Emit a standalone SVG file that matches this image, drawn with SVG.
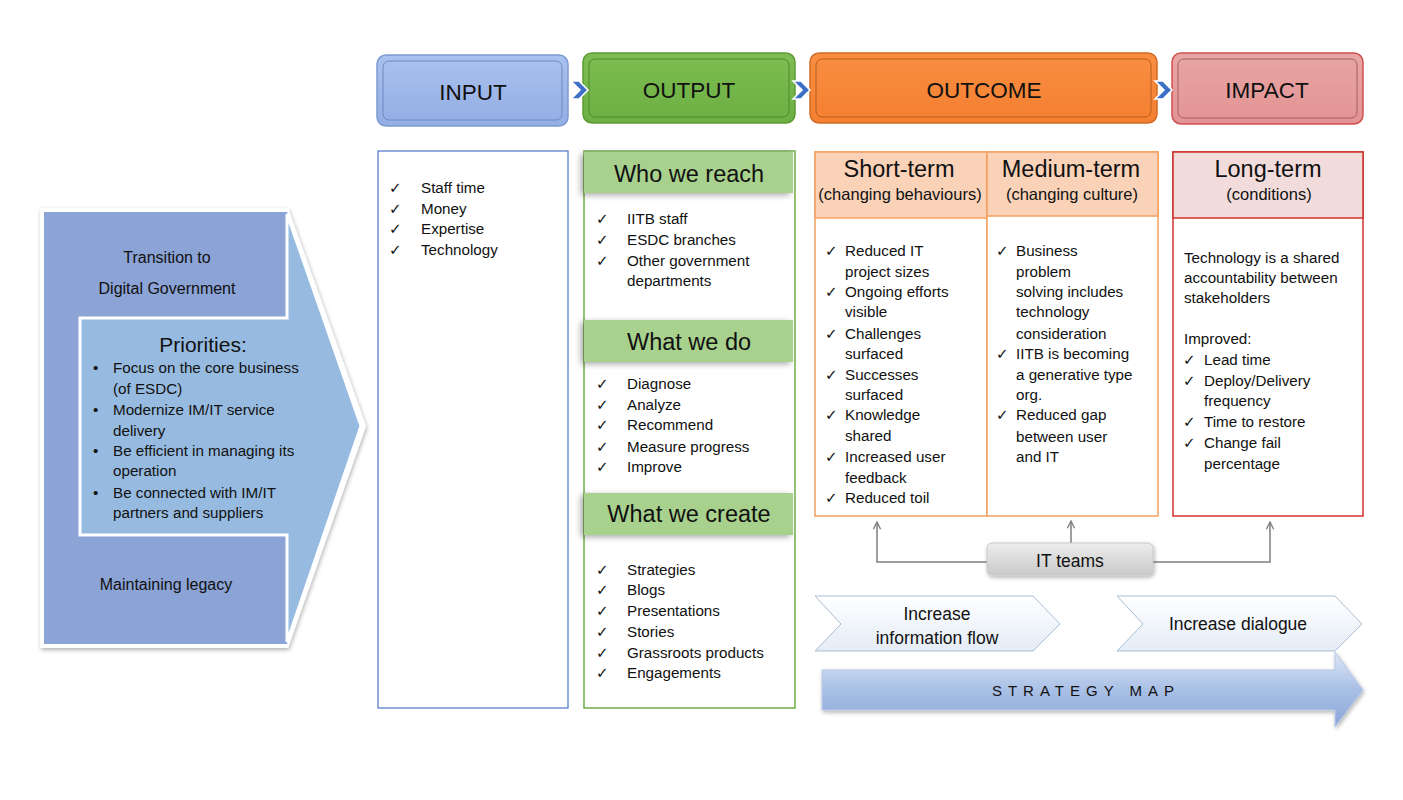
<svg xmlns="http://www.w3.org/2000/svg" width="1403" height="800" viewBox="0 0 1403 800">
<defs>
<style>
text{font-family:"Liberation Sans",Arial,sans-serif;fill:#111;}
.b{font-size:15.2px;}
.l{font-size:16px;}
.h{font-size:23.5px;}
.hd{font-size:22.5px;}
.sub{font-size:16.5px;}
.m{font-size:17.5px;}
.ck{font-family:"DejaVu Sans",sans-serif;font-size:15px;}
.c{text-anchor:middle;}
.conn{stroke:#7F7F7F;stroke-width:1.5;fill:none;marker-end:url(#ar);}
</style>
<marker id="ar" viewBox="0 0 10 10" refX="9" refY="5" markerWidth="9" markerHeight="9" orient="auto" markerUnits="userSpaceOnUse">
<path d="M1,1 L9,5 L1,9" fill="none" stroke="#7F7F7F" stroke-width="1.5"/>
</marker>
<filter id="sh" x="-10%" y="-20%" width="120%" height="150%">
<feDropShadow dx="-3" dy="2" stdDeviation="3" flood-color="#000" flood-opacity="0.35"/>
</filter>
<filter id="sh2" x="-10%" y="-10%" width="120%" height="130%">
<feDropShadow dx="1" dy="2" stdDeviation="2" flood-color="#000" flood-opacity="0.3"/>
</filter>
<linearGradient id="gIn" x1="0" y1="0" x2="0" y2="1"><stop offset="0" stop-color="#A9C1EE"/><stop offset="1" stop-color="#93AEE4"/></linearGradient>
<linearGradient id="gOut" x1="0" y1="0" x2="0" y2="1"><stop offset="0" stop-color="#7DBD52"/><stop offset="1" stop-color="#6DAF42"/></linearGradient>
<linearGradient id="gOc" x1="0" y1="0" x2="0" y2="1"><stop offset="0" stop-color="#F98E42"/><stop offset="1" stop-color="#F47F30"/></linearGradient>
<linearGradient id="gIm" x1="0" y1="0" x2="0" y2="1"><stop offset="0" stop-color="#E9A5A5"/><stop offset="1" stop-color="#E29393"/></linearGradient>
<linearGradient id="gGray" x1="0" y1="0" x2="0" y2="1"><stop offset="0" stop-color="#EDEDED"/><stop offset="1" stop-color="#C9C9C9"/></linearGradient>
<linearGradient id="gChev" x1="0" y1="0" x2="0" y2="1"><stop offset="0" stop-color="#FFFFFF"/><stop offset="1" stop-color="#E4ECF6"/></linearGradient>
<linearGradient id="gMap" x1="0" y1="0" x2="0" y2="1"><stop offset="0" stop-color="#DCE6F5"/><stop offset="0.5" stop-color="#A9C0E6"/><stop offset="1" stop-color="#8AA6D8"/></linearGradient>
</defs>
<rect width="1403" height="800" fill="#FFFFFF"/>

<!-- Left priorities arrow -->
<g id="priorities">
<polygon points="40,208 288,208 366,426 288,648 40,648" fill="#FFFFFF" filter="url(#sh2)"/>
<polygon points="44,212 287,212 362,426 287,644 44,644" fill="#8BA3D5"/>
<polygon points="80,318 287,318 287,214 361,426 287,642 287,535 80,535" fill="#97BBE0" stroke="#FFFFFF" stroke-width="3"/>
<text class="l c" x="167" y="263">Transition to</text>
<text class="l c" x="167" y="294">Digital Government</text>
<text class="c" x="203" y="352" style="font-size:21px">Priorities:</text>
<text class="b" x="93" y="373">•</text><text class="b" x="113" y="373">Focus on the core business</text>
<text class="b" x="113" y="394">(of ESDC)</text>
<text class="b" x="93" y="415">•</text><text class="b" x="113" y="415">Modernize IM/IT service</text>
<text class="b" x="113" y="436">delivery</text>
<text class="b" x="93" y="456">•</text><text class="b" x="113" y="456">Be efficient in managing its</text>
<text class="b" x="113" y="476">operation</text>
<text class="b" x="93" y="498">•</text><text class="b" x="113" y="498">Be connected with IM/IT</text>
<text class="b" x="113" y="518">partners and suppliers</text>
<text class="l c" x="166" y="590">Maintaining legacy</text>
</g>

<!-- Header boxes -->
<g id="input-header">
<rect x="377" y="55" width="191" height="71" rx="9" fill="url(#gIn)" stroke="#7E9AD0" stroke-width="1.5"/>
<rect x="383" y="61" width="179" height="59" rx="6" fill="none" stroke="#6E89BE" stroke-width="1"/>
<text class="hd c" x="473" y="100">INPUT</text>
</g>
<g id="output-header">
<rect x="583" y="53" width="212" height="70" rx="9" fill="url(#gOut)" stroke="#5C9A34" stroke-width="1.5"/>
<rect x="589" y="59" width="200" height="58" rx="6" fill="none" stroke="#4F8A2A" stroke-width="1"/>
<text class="hd c" x="689" y="98">OUTPUT</text>
</g>
<g id="outcome-header">
<rect x="810" y="53" width="347" height="70" rx="9" fill="url(#gOc)" stroke="#D06C25" stroke-width="1.5"/>
<rect x="816" y="59" width="335" height="58" rx="6" fill="none" stroke="#B65E1E" stroke-width="1"/>
<text class="hd c" x="984" y="98">OUTCOME</text>
</g>
<g id="impact-header">
<rect x="1172" y="53" width="191" height="71" rx="9" fill="url(#gIm)" stroke="#D05050" stroke-width="1.5"/>
<rect x="1178" y="59" width="179" height="59" rx="6" fill="none" stroke="#A06060" stroke-width="1"/>
<text class="hd c" x="1267" y="98">IMPACT</text>
</g>

<!-- header chevrons -->
<g id="header-chevrons" fill="#3D6FC7" stroke="#FFFFFF" stroke-width="1.5">
<polygon points="571,81 579,81 588,90 579,99 571,99 580,90"/>
<polygon points="793,81 801,81 810,90 801,99 793,99 802,90"/>
<polygon points="1155,81 1163,81 1172,90 1163,99 1155,99 1164,90"/>
</g>

<!-- INPUT column -->
<g id="input">
<rect x="378" y="151" width="190" height="557" fill="#FFFFFF" stroke="#4A76C6" stroke-width="1.2"/>
<text class="ck" x="389" y="193">✓</text><text class="b" x="421" y="193">Staff time</text>
<text class="ck" x="389" y="214">✓</text><text class="b" x="421" y="214">Money</text>
<text class="ck" x="389" y="234">✓</text><text class="b" x="421" y="234">Expertise</text>
<text class="ck" x="389" y="255">✓</text><text class="b" x="421" y="255">Technology</text>
</g>

<!-- OUTPUT column -->
<g id="output">
<rect x="584" y="151" width="211" height="557" fill="#FFFFFF" stroke="#70AD47" stroke-width="1.5"/>
<rect x="584" y="152" width="209" height="41" fill="#A9D18E" filter="url(#sh)"/>
<text class="h c" x="689" y="182">Who we reach</text>
<text class="ck" x="596" y="224">✓</text><text class="b" x="627" y="224">IITB staff</text>
<text class="ck" x="596" y="245">✓</text><text class="b" x="627" y="245">ESDC branches</text>
<text class="ck" x="596" y="266">✓</text><text class="b" x="627" y="266">Other government</text>
<text class="b" x="627" y="286">departments</text>
<rect x="584" y="320" width="209" height="42" fill="#A9D18E" filter="url(#sh)"/>
<text class="h c" x="689" y="350">What we do</text>
<text class="ck" x="596" y="389">✓</text><text class="b" x="627" y="389">Diagnose</text>
<text class="ck" x="596" y="410">✓</text><text class="b" x="627" y="410">Analyze</text>
<text class="ck" x="596" y="430">✓</text><text class="b" x="627" y="430">Recommend</text>
<text class="ck" x="596" y="452">✓</text><text class="b" x="627" y="452">Measure progress</text>
<text class="ck" x="596" y="472">✓</text><text class="b" x="627" y="472">Improve</text>
<rect x="584" y="493" width="209" height="42" fill="#A9D18E" filter="url(#sh)"/>
<text class="h c" x="689" y="522">What we create</text>
<text class="ck" x="596" y="575">✓</text><text class="b" x="627" y="575">Strategies</text>
<text class="ck" x="596" y="595">✓</text><text class="b" x="627" y="595">Blogs</text>
<text class="ck" x="596" y="616">✓</text><text class="b" x="627" y="616">Presentations</text>
<text class="ck" x="596" y="637">✓</text><text class="b" x="627" y="637">Stories</text>
<text class="ck" x="596" y="658">✓</text><text class="b" x="627" y="658">Grassroots products</text>
<text class="ck" x="596" y="678">✓</text><text class="b" x="627" y="678">Engagements</text>
</g>

<!-- Short-term -->
<g id="short-term">
<rect x="815" y="152" width="172" height="364" fill="#FFFFFF" stroke="#F4A060" stroke-width="1.5"/>
<rect x="815" y="152" width="172" height="66" fill="#F9D2B8" stroke="#F4A060" stroke-width="1.5"/>
<text class="h c" x="899" y="177">Short-term</text>
<text class="sub c" x="900" y="200">(changing behaviours)</text>
<text class="ck" x="825" y="256">✓</text><text class="b" x="845" y="256">Reduced IT</text>
<text class="b" x="845" y="277">project sizes</text>
<text class="ck" x="825" y="297">✓</text><text class="b" x="845" y="297">Ongoing efforts</text>
<text class="b" x="845" y="317">visible</text>
<text class="ck" x="825" y="339">✓</text><text class="b" x="845" y="339">Challenges</text>
<text class="b" x="845" y="359">surfaced</text>
<text class="ck" x="825" y="380">✓</text><text class="b" x="845" y="380">Successes</text>
<text class="b" x="845" y="400">surfaced</text>
<text class="ck" x="825" y="420">✓</text><text class="b" x="845" y="420">Knowledge</text>
<text class="b" x="845" y="441">shared</text>
<text class="ck" x="825" y="462">✓</text><text class="b" x="845" y="462">Increased user</text>
<text class="b" x="845" y="483">feedback</text>
<text class="ck" x="825" y="503">✓</text><text class="b" x="845" y="503">Reduced toil</text>
</g>

<!-- Medium-term -->
<g id="medium-term">
<rect x="987" y="152" width="171" height="364" fill="#FFFFFF" stroke="#F4A060" stroke-width="1.5"/>
<rect x="987" y="152" width="171" height="64" fill="#F9D2B8" stroke="#F4A060" stroke-width="1.5"/>
<text class="h c" x="1071" y="177">Medium-term</text>
<text class="sub c" x="1072" y="200">(changing culture)</text>
<text class="ck" x="996" y="256">✓</text><text class="b" x="1016" y="256">Business</text>
<text class="b" x="1016" y="277">problem</text>
<text class="b" x="1016" y="297">solving includes</text>
<text class="b" x="1016" y="317">technology</text>
<text class="b" x="1016" y="339">consideration</text>
<text class="ck" x="996" y="359">✓</text><text class="b" x="1016" y="359">IITB is becoming</text>
<text class="b" x="1016" y="380">a generative type</text>
<text class="b" x="1016" y="400">org.</text>
<text class="ck" x="996" y="420">✓</text><text class="b" x="1016" y="420">Reduced gap</text>
<text class="b" x="1016" y="442">between user</text>
<text class="b" x="1016" y="462">and IT</text>
</g>

<!-- Long-term -->
<g id="long-term">
<rect x="1173" y="152" width="190" height="364" fill="#FFFFFF" stroke="#D0312D" stroke-width="1.5"/>
<rect x="1173" y="152" width="190" height="66" fill="#F2DCDB" stroke="#D0312D" stroke-width="1.5"/>
<text class="h c" x="1268" y="177">Long-term</text>
<text class="sub c" x="1269" y="200">(conditions)</text>
<text class="b" x="1184" y="263">Technology is a shared</text>
<text class="b" x="1184" y="283">accountability between</text>
<text class="b" x="1184" y="303">stakeholders</text>
<text class="b" x="1184" y="344">Improved:</text>
<text class="ck" x="1183" y="365">✓</text><text class="b" x="1204" y="365">Lead time</text>
<text class="ck" x="1183" y="386">✓</text><text class="b" x="1204" y="386">Deploy/Delivery</text>
<text class="b" x="1204" y="406">frequency</text>
<text class="ck" x="1183" y="427">✓</text><text class="b" x="1204" y="427">Time to restore</text>
<text class="ck" x="1183" y="448">✓</text><text class="b" x="1204" y="448">Change fail</text>
<text class="b" x="1204" y="469">percentage</text>
</g>

<!-- connectors -->
<g id="connectors">
<polyline class="conn" points="987,562 877,562 877,522"/>
<polyline class="conn" points="1071,543 1071,521"/>
<polyline class="conn" points="1153,562 1270,562 1270,522"/>
</g>

<g id="it-teams">
<rect x="987" y="543" width="166" height="32" rx="5" fill="url(#gGray)" stroke="#C8C8C8" stroke-width="1" filter="url(#sh2)"/>
<text class="m c" x="1070" y="567">IT teams</text>
</g>

<g id="info-flow">
<polygon points="815,596 1033,596 1060,624 1033,651 815,651 841,624" fill="url(#gChev)" stroke="#A9BCD4" stroke-width="1"/>
<text class="m c" x="937" y="620">Increase</text>
<text class="m c" x="937" y="644">information flow</text>
</g>

<g id="dialogue">
<polygon points="1117,596 1335,596 1362,624 1335,651 1117,651 1143,624" fill="url(#gChev)" stroke="#A9BCD4" stroke-width="1"/>
<text class="m c" x="1238" y="630">Increase dialogue</text>
</g>

<g id="strategy-map">
<polygon points="822,670 1335,670 1335,652 1363,690 1335,727 1335,710 822,710" fill="url(#gMap)" stroke="#B7C8E4" stroke-width="1" filter="url(#sh2)"/>
<text class="c" x="1086" y="696" style="font-size:15px;letter-spacing:6px">STRATEGY MAP</text>
</g>
</svg>
